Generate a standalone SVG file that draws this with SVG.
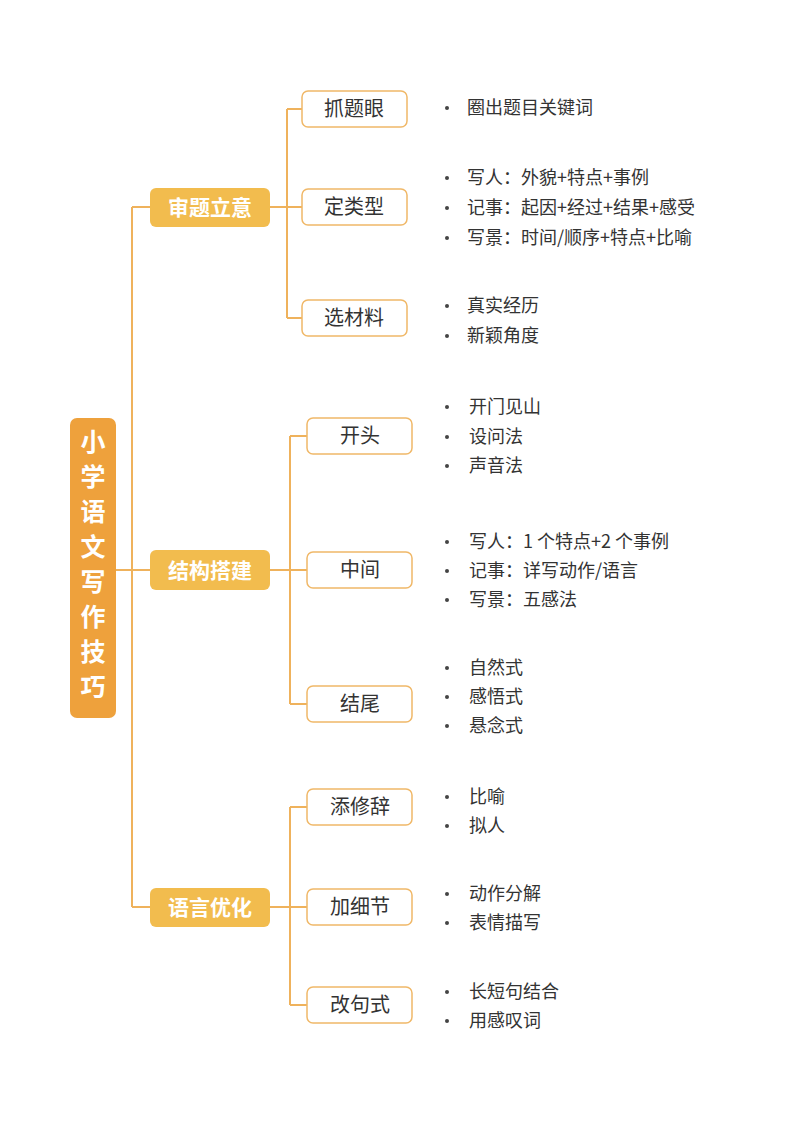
<svg xmlns="http://www.w3.org/2000/svg" width="800" height="1130" viewBox="0 0 800 1130">
<style>
text{font-family:"Noto Sans CJK SC","Liberation Sans",sans-serif}
.c{fill:none;stroke:#EFB25C;stroke-width:2}
.l1 rect{fill:#F2BC4E}
.l1 text{fill:#fff;font-size:21px;font-weight:bold;text-anchor:middle}
.l2 rect{fill:#fff;stroke:#F0B868;stroke-width:1.5}
.l2 text{fill:#333;font-size:20px;text-anchor:middle}
.b text{fill:#333;font-size:18px}
.b circle{fill:#444}
</style>
<rect width="800" height="1130" fill="#fff"/>
<g id="connectors">
<path class="c" d="M116 570H132M132 207V907M132 207H150M132 570H150M132 907H150"/>
<path class="c" d="M270 207H302M287 109V318M287 109H302M287 318H302"/>
<path class="c" d="M270 570H307M290 436V704M290 436H307M290 704H307"/>
<path class="c" d="M270 907H307M290 807V1005M290 807H307M290 1005H307"/>
</g>
<g id="root"><rect x="70" y="418" width="46" height="300" rx="7" fill="#EEA13C"/>
<text font-size="25" font-weight="bold" fill="#fff" text-anchor="middle">
<tspan x="93" y="451">小</tspan><tspan x="93" y="486">学</tspan><tspan x="93" y="521">语</tspan><tspan x="93" y="556">文</tspan><tspan x="93" y="591">写</tspan><tspan x="93" y="626">作</tspan><tspan x="93" y="661">技</tspan><tspan x="93" y="696">巧</tspan></text></g>
<g id="n1" class="l1"><rect x="150" y="188" width="120" height="39" rx="6"/><text x="210" y="215">审题立意</text></g>
<g id="n2" class="l1"><rect x="150" y="550" width="120" height="40" rx="6"/><text x="210" y="578">结构搭建</text></g>
<g id="n3" class="l1"><rect x="150" y="888" width="120" height="39" rx="6"/><text x="210" y="915">语言优化</text></g>
<g id="n1a" class="l2"><rect x="302" y="91" width="105" height="36" rx="6"/><text x="354" y="116">抓题眼</text></g>
<g id="n1b" class="l2"><rect x="302" y="189" width="105" height="36" rx="6"/><text x="354" y="214">定类型</text></g>
<g id="n1c" class="l2"><rect x="302" y="300" width="105" height="36" rx="6"/><text x="354" y="325">选材料</text></g>
<g id="n2a" class="l2"><rect x="307" y="418" width="105" height="36" rx="6"/><text x="360" y="443">开头</text></g>
<g id="n2b" class="l2"><rect x="307" y="552" width="105" height="36" rx="6"/><text x="360" y="577">中间</text></g>
<g id="n2c" class="l2"><rect x="307" y="686" width="105" height="36" rx="6"/><text x="360" y="711">结尾</text></g>
<g id="n3a" class="l2"><rect x="307" y="789" width="105" height="36" rx="6"/><text x="360" y="814">添修辞</text></g>
<g id="n3b" class="l2"><rect x="307" y="889" width="105" height="36" rx="6"/><text x="360" y="914">加细节</text></g>
<g id="n3c" class="l2"><rect x="307" y="987" width="105" height="36" rx="6"/><text x="360" y="1012">改句式</text></g>
<g id="bullets" class="b">
<circle cx="447" cy="108" r="2"/><text x="467" y="114">圈出题目关键词</text>
<circle cx="447" cy="178" r="2"/><text x="467" y="184">写人：外貌+特点+事例</text>
<circle cx="447" cy="208" r="2"/><text x="467" y="214">记事：起因+经过+结果+感受</text>
<circle cx="447" cy="238" r="2"/><text x="467" y="244">写景：时间/顺序+特点+比喻</text>
<circle cx="447" cy="306" r="2"/><text x="467" y="312">真实经历</text>
<circle cx="447" cy="336" r="2"/><text x="467" y="342">新颖角度</text>
<circle cx="447" cy="407" r="2"/><text x="469" y="413">开门见山</text>
<circle cx="447" cy="437" r="2"/><text x="469" y="443">设问法</text>
<circle cx="447" cy="466" r="2"/><text x="469" y="472">声音法</text>
<circle cx="447" cy="542" r="2"/><text x="469" y="548">写人：1 个特点+2 个事例</text>
<circle cx="447" cy="571" r="2"/><text x="469" y="577">记事：详写动作/语言</text>
<circle cx="447" cy="600" r="2"/><text x="469" y="606">写景：五感法</text>
<circle cx="447" cy="668" r="2"/><text x="469" y="674">自然式</text>
<circle cx="447" cy="697" r="2"/><text x="469" y="703">感悟式</text>
<circle cx="447" cy="726" r="2"/><text x="469" y="732">悬念式</text>
<circle cx="447" cy="797" r="2"/><text x="469" y="803">比喻</text>
<circle cx="447" cy="826" r="2"/><text x="469" y="832">拟人</text>
<circle cx="447" cy="894" r="2"/><text x="469" y="900">动作分解</text>
<circle cx="447" cy="923" r="2"/><text x="469" y="929">表情描写</text>
<circle cx="447" cy="992" r="2"/><text x="469" y="998">长短句结合</text>
<circle cx="447" cy="1021" r="2"/><text x="469" y="1027">用感叹词</text>
</g>
</svg>
